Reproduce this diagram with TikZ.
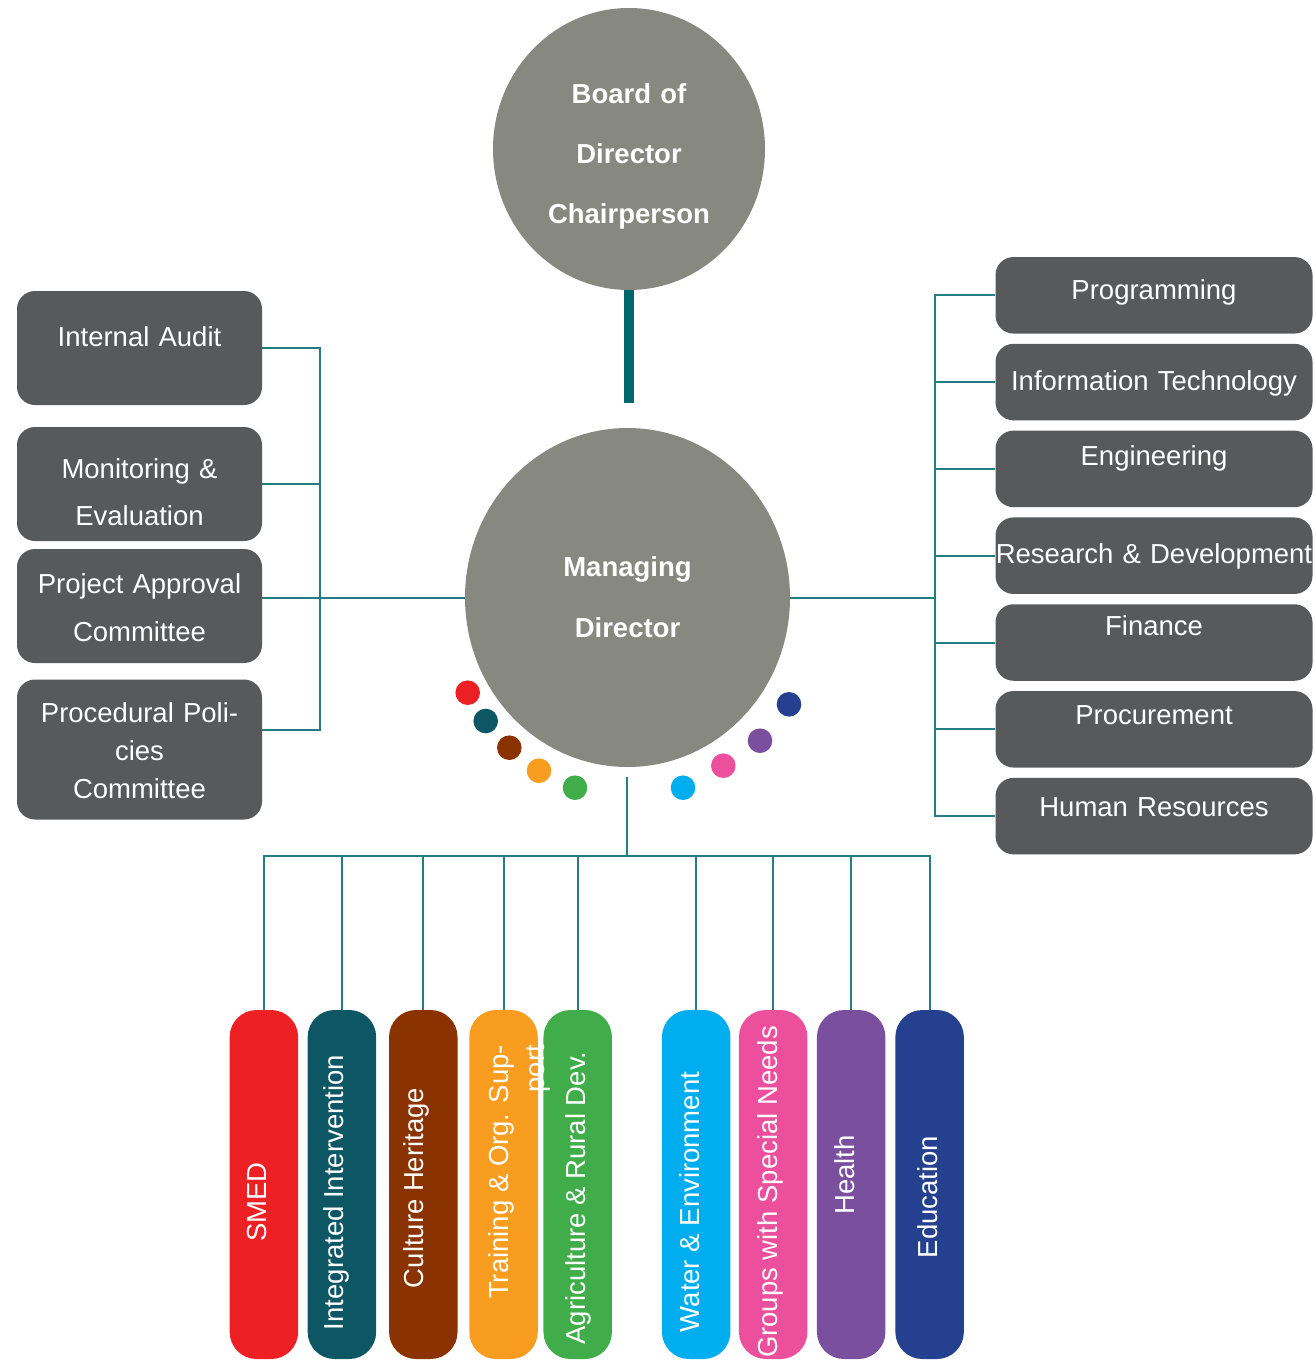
\documentclass[tikz,border=0pt]{standalone}
\usepackage{fontspec}
\setmainfont{Liberation Sans}
\usetikzlibrary{shapes,arrows,positioning}

\definecolor{boxgray}{HTML}{58595B}
\definecolor{headgray}{HTML}{878880}
\definecolor{linkteal}{HTML}{237D82}
\definecolor{trunkteal}{HTML}{00666B}
\definecolor{smedred}{HTML}{ED2024}
\definecolor{intteal}{HTML}{0D5765}
\definecolor{herbrown}{HTML}{8B3300}
\definecolor{trainorange}{HTML}{F89D1F}
\definecolor{agrigreen}{HTML}{40AD4A}
\definecolor{watercyan}{HTML}{00AEEF}
\definecolor{grouppink}{HTML}{EC4F9C}
\definecolor{healthpurple}{HTML}{7A4F9E}
\definecolor{edunavy}{HTML}{25408F}

\tikzstyle{head} = [ellipse, fill=headgray, text=white, align=center,
    inner sep=0pt, font=\bfseries\fontsize{13.75}{30}\selectfont]
\tikzstyle{dept} = [rectangle, fill=boxgray, rounded corners=9pt, text=white,
    align=center, inner xsep=0pt, inner ysep=0pt, minimum height=0pt,
    font=\fontsize{13.75}{23.5}\selectfont]
\tikzstyle{lbox} = [dept, text width=122.5pt]
\tikzstyle{rbox} = [dept, text width=158.5pt]
\tikzstyle{sector} = [rectangle, rounded corners=13.5pt, minimum width=34.25pt,
    minimum height=174.5pt, inner sep=0pt]
\tikzstyle{sectortext} = [rotate=90, text=white, align=right, inner sep=0pt,
    font=\fontsize{13.75}{18.3}\selectfont]
\tikzstyle{wire} = [draw=linkteal, line width=1pt]
\tikzstyle{trunk} = [draw=trunkteal, line width=5pt]
\tikzstyle{junction} = [coordinate]

\begin{document}
\begin{tikzpicture}[auto, node distance=43.4pt, x=0.5pt, y=-0.5pt]
      \useasboundingbox (0,0) rectangle (1316,1360);
      % We start by placing the two heads
      \node[head, minimum width=136pt, minimum height=141pt, text width=90pt,
          text height=12pt, text depth=58pt] (board) at (629,149)
          {Board of\\Director\\Chairperson};
      \node[head, minimum width=162.5pt, minimum height=169.5pt,
          font=\bfseries\fontsize{13.75}{30.5}\selectfont] (md) at (627.5,597.5)
          {Managing\\Director};
      \coordinate (mdtop) at (629,403);

      % left column, the boxes are not all the same size
      \node[lbox, text height=27.5pt, text depth=29.5pt] (audit) at (139.5,348)
          {Internal Audit};
      \node[lbox, text height=25.5pt, text depth=31.5pt] (monitor) at (139.5,484)
          {Monitoring \&\\Evaluation};
      \node[lbox, text height=22pt, text depth=35pt,
          font=\fontsize{13.75}{24.3}\selectfont] (approval) at (139.5,606)
          {Project Approval\\Committee};
      \node[lbox, text height=21.5pt, text depth=48.5pt,
          font=\fontsize{13.75}{19}\selectfont] (policies) at (139.5,749.5)
          {Procedural Poli-\\cies\\Committee};

      % right column, one below the other
      \node[rbox, text height=21pt, text depth=17.25pt] (prog) at (1154,295.3)
          {Programming};
      \node[rbox, text height=23.5pt, text depth=14.75pt, below of=prog] (infotech)
          {Information Technology};
      \node[rbox, text height=17.5pt, text depth=20.75pt, below of=infotech] (engin)
          {Engineering};
      \node[rbox, text height=23pt, text depth=15.25pt, below of=engin] (research)
          {Research \& Development};
      \node[rbox, text height=15.5pt, text depth=22.75pt, below of=research] (finance)
          {Finance};
      \node[rbox, text height=16.5pt, text depth=21.75pt, below of=finance] (procure)
          {Procurement};
      \node[rbox, text height=19.25pt, text depth=19pt, below of=procure] (hr)
          {Human Resources};

      \node[junction] (lbus) at (320,597.5) {};
      \node[junction] (rbus) at (935,597.5) {};
      \node[junction] (mdfoot) at (627,777) {};
      \node[junction] (hub) at (627,856) {};

      % Once the nodes are placed, connecting them is easy.
      \draw[trunk] (board.south) -- (mdtop);

      % left bracket
      \draw[wire] (md.west) -- (md.west -| audit.east);
      \draw[wire] (lbus) |- (audit.east);
      \draw[wire] (lbus) |- (monitor.east);
      \draw[wire] (lbus) |- ([yshift=10pt]policies.east);

      % right bracket
      \draw[wire] (md.east) -- (rbus);
      \foreach \dept in {prog,infotech,engin,research,finance,procure,hr}
          \draw[wire] (rbus) |- (\dept.west);

      % the coloured dots round the managing director
      \foreach \x/\y/\col in {467.7/692.7/smedred, 485.7/721/intteal,
          509.3/747.7/herbrown, 539/770.7/trainorange, 575/787.7/agrigreen,
          683/787.7/watercyan, 723.3/765.7/grouppink, 760/740.7/healthpurple,
          789/704.3/edunavy}
          \fill[\col] (\x,\y) circle[radius=6.15pt];

      % sectors at the bottom
      \draw[wire] (mdfoot) -- (hub);
      \foreach \name/\x/\col in {smed/263.9/smedred, integrated/341.9/intteal,
          culture/423.3/herbrown, training/503.5/trainorange, agri/577.7/agrigreen,
          water/696.2/watercyan, groups/773.2/grouppink, health/851.2/healthpurple,
          education/929.6/edunavy}
      {
          \node[sector, fill=\col] (\name) at (\x,1184.5) {};
          \draw[wire] (hub) -| (\name.north);
      }
      \foreach \name/\x/\y/\txt in {smed/256.6/1202/{SMED},
          integrated/336.6/1192.5/{Integrated Intervention},
          culture/416.5/1188/{Culture Heritage},
          training/519.3/1172/{Training \& Org. Sup-\\port},
          agri/578.8/1198/{Agriculture \& Rural Dev.},
          water/690/1202/{Water \& Environment},
          groups/770/1192/{Groups with Special Needs},
          health/845/1175/{Health},
          education/927.7/1197/{Education}}
          \node[sectortext] (\name-txt) at (\x,\y) {\txt};
  \end{tikzpicture}
\end{document}
